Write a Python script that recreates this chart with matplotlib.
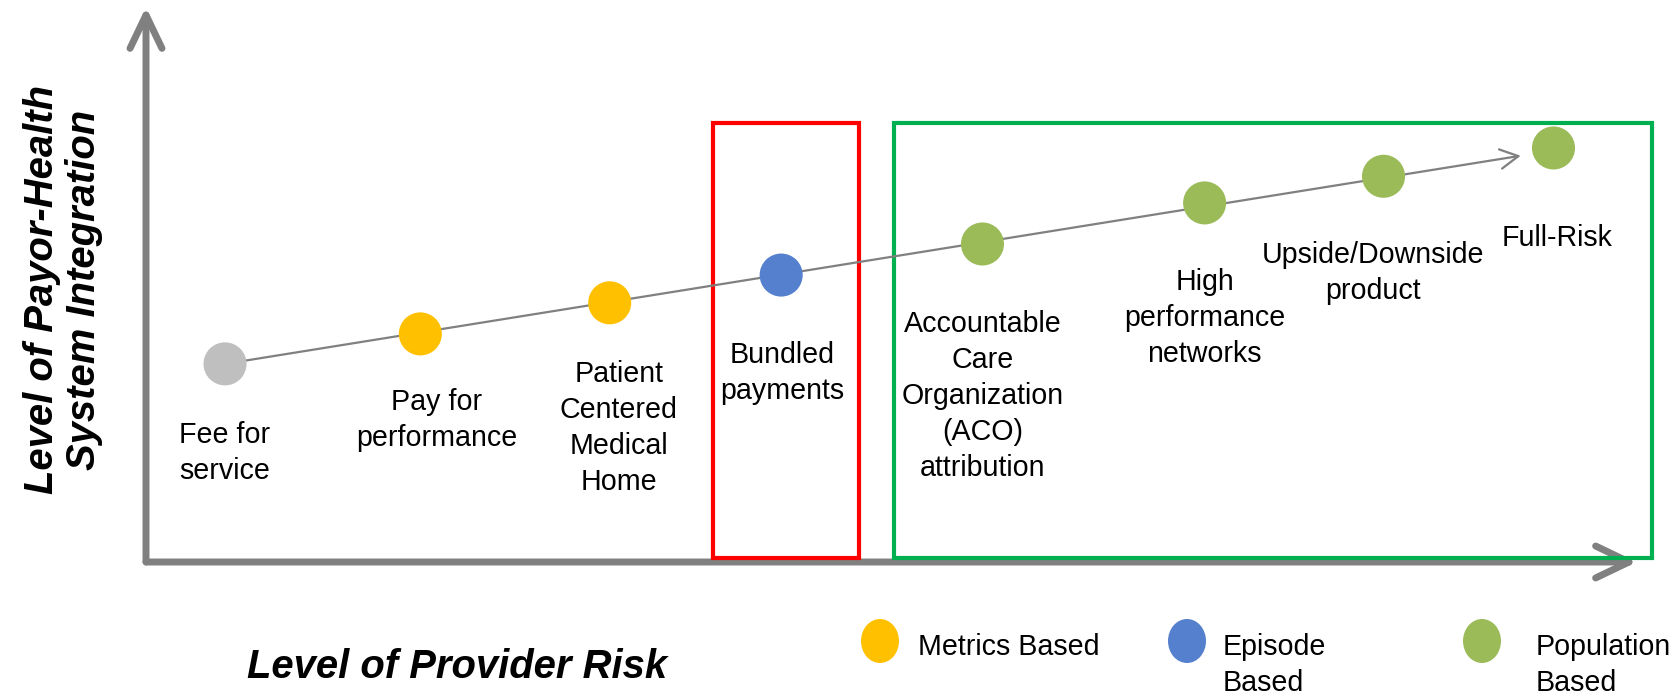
import matplotlib.pyplot as plt
from matplotlib.patches import Rectangle, Ellipse

plt.rcParams['font.family'] = ['Liberation Sans', 'DejaVu Sans']

# payment models, placed by provider risk (x) and payor-health system integration (y)
models = ['Fee for\nservice', 'Pay for\nperformance', 'Patient\nCentered\nMedical\nHome',
          'Bundled\npayments', 'Accountable\nCare\nOrganization\n(ACO)\nattribution',
          'High\nperformance\nnetworks', 'Upside/Downside\nproduct', 'Full-Risk']
provider_risk = [5.3, 18.4, 31.1, 42.6, 56.1, 71.0, 83.0, 94.4]
integration = [35.7, 41.1, 46.7, 51.7, 57.3, 64.7, 69.5, 74.6]
model_type = ['Traditional', 'Metrics Based', 'Metrics Based', 'Episode Based',
              'Population Based', 'Population Based', 'Population Based', 'Population Based']

legend_types = ['Metrics Based', 'Episode Based', 'Population Based']
legend_labels = ['Metrics Based', 'Episode\nBased', 'Population\nBased']

# highlighted ranges (risk axis) and the end of the trend arrow
episode_span = (38.0, 47.8)
population_span = (50.2, 101.0)
box_levels = (0.8, 79.1)
trend_end = (92.2, 73.2)

colors = {'Traditional': '#BFBFBF', 'Metrics Based': '#FFC000',
          'Episode Based': '#5580CD', 'Population Based': '#9BBB59'}
axis_gray = '#808080'

# label placement relative to each point, in pixels
label_dx = [0, 16, 9, 1, 0, 0, -11, 4]
label_dy = [-57, -54, -57, -66, -66, -65, -65, -76]

W, H = 1678, 696
fig = plt.figure(figsize=(W / 100, H / 100), dpi=100)

# overlay in pixel units for titles and the legend
lax = fig.add_axes([0, 0, 1, 1])
lax.set_xlim(0, W)
lax.set_ylim(H, 0)
lax.axis('off')

ax = fig.add_axes([146 / W, (H - 562) / H, 1491 / W, 555 / H])
ax.set_xlim(0, 100)
ax.set_ylim(0, 100)
ax.axis('off')

# axes as arrows
axis_props = dict(arrowstyle='->,head_length=2.4,head_width=1.15', color=axis_gray,
                  lw=5, shrinkA=0, shrinkB=0, mutation_scale=10,
                  capstyle='round', joinstyle='round')
ax.annotate('', xy=(100, 0), xytext=(0, 0), arrowprops=axis_props,
            annotation_clip=False, zorder=1)
ax.annotate('', xy=(0, 100), xytext=(0, 0), arrowprops=axis_props,
            annotation_clip=False, zorder=1)

# highlight boxes
ax.add_patch(Rectangle((episode_span[0], box_levels[0]), episode_span[1] - episode_span[0],
                       box_levels[1] - box_levels[0], fill=False, ec='#FF0000', lw=3,
                       zorder=2, clip_on=False))
ax.add_patch(Rectangle((population_span[0], box_levels[0]), population_span[1] - population_span[0],
                       box_levels[1] - box_levels[0], fill=False, ec='#00B050', lw=3,
                       zorder=2, clip_on=False))

# trend arrow
ax.annotate('', xy=trend_end, xytext=(provider_risk[0], integration[0]),
            arrowprops=dict(arrowstyle='->,head_length=1.3,head_width=0.7', color=axis_gray,
                            lw=1.6, shrinkA=0, shrinkB=0, mutation_scale=10),
            annotation_clip=False, zorder=3)

ax.scatter(provider_risk, integration, s=31 ** 2, c=[colors[t] for t in model_type],
           linewidths=0, zorder=4, clip_on=False)

for name, x, y, dx, dy in zip(models, provider_risk, integration, label_dx, label_dy):
    ax.annotate(name, (x, y), xytext=(dx, dy), textcoords='offset pixels',
                ha='center', va='top', fontsize=20.6, linespacing=1.36,
                multialignment='center', annotation_clip=False, zorder=5)

# axis titles
lax.text(457, 667, 'Level of Provider Risk', ha='center', va='center',
         fontsize=28.8, fontweight='bold', fontstyle='italic')
lax.text(63, 290, 'Level of Payor-Health\nSystem Integration', ha='center', va='center',
         rotation=90, fontsize=28.8, fontweight='bold', fontstyle='italic',
         multialignment='center', linespacing=1.12)

# legend
legend_x = [880, 1187, 1482]
text_x = [918, 1223, 1536]
for t, lbl, cx, tx in zip(legend_types, legend_labels, legend_x, text_x):
    lax.add_patch(Ellipse((cx, 641), 38, 44, color=colors[t], lw=0))
    lax.text(tx, 633, lbl, ha='left', va='top', fontsize=20.6, linespacing=1.36)

fig.savefig('out.png', dpi=100)
